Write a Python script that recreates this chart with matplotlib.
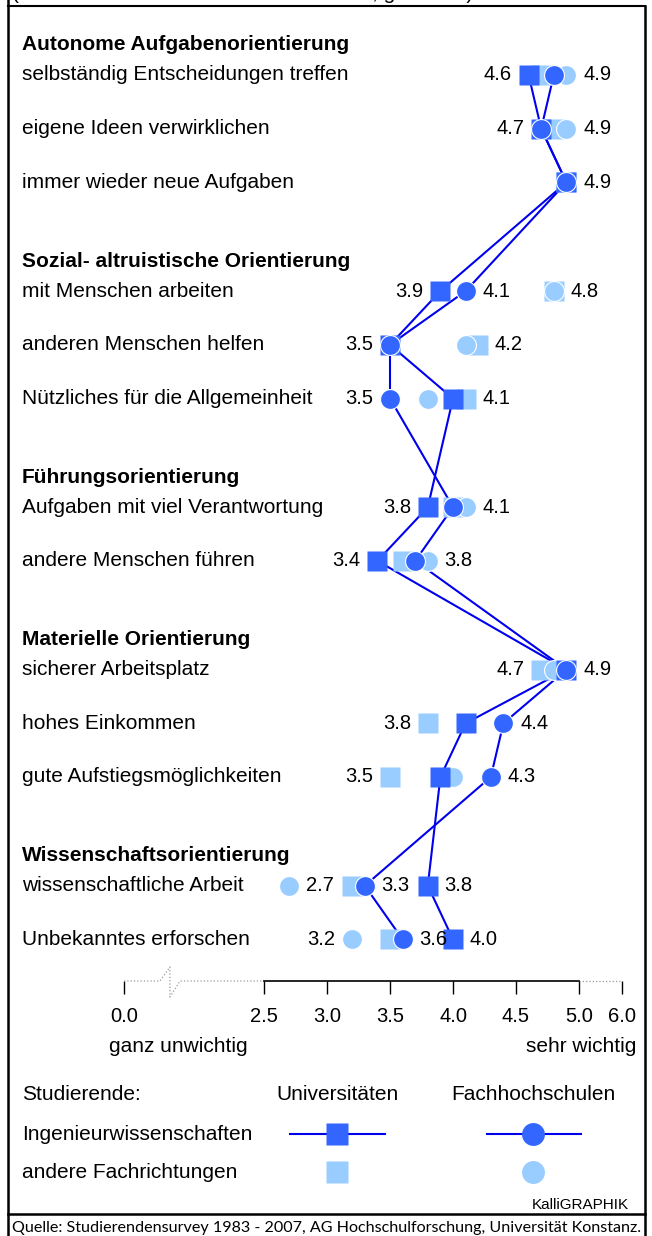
import numpy as np
import matplotlib.pyplot as plt

plt.rcParams['font.family'] = ['Liberation Sans', 'DejaVu Sans']

# --- data ---
groups = ['Autonome Aufgabenorientierung',
          'Sozial- altruistische Orientierung',
          'Führungsorientierung',
          'Materielle Orientierung',
          'Wissenschaftsorientierung']
items = ['selbständig Entscheidungen treffen',
         'eigene Ideen verwirklichen',
         'immer wieder neue Aufgaben',
         'mit Menschen arbeiten',
         'anderen Menschen helfen',
         'Nützliches für die Allgemeinheit',
         'Aufgaben mit viel Verantwortung',
         'andere Menschen führen',
         'sicherer Arbeitsplatz',
         'hohes Einkommen',
         'gute Aufstiegsmöglichkeiten',
         'wissenschaftliche Arbeit',
         'Unbekanntes erforschen']
item_group = [0, 0, 0, 1, 1, 1, 2, 2, 3, 3, 3, 4, 4]

uni_ing = [4.6, 4.7, 4.9, 3.9, 3.5, 4.0, 3.8, 3.4, 4.9, 4.1, 3.9, 3.8, 4.0]
fh_ing = [4.8, 4.7, 4.9, 4.1, 3.5, 3.5, 4.0, 3.7, 4.9, 4.4, 4.3, 3.3, 3.6]
uni_and = [4.7, 4.8, 4.9, 4.8, 4.2, 4.1, 4.0, 3.6, 4.7, 3.8, 3.5, 3.2, 3.5]
fh_and = [4.9, 4.9, 4.9, 4.8, 4.1, 3.8, 4.1, 3.8, 4.8, 4.1, 4.0, 2.7, 3.2]

# which values get a number next to them: (series, side)
value_labels = [
    [('uni_ing', 'L'), ('fh_and', 'R')],
    [('uni_ing', 'L'), ('fh_and', 'R')],
    [('fh_ing', 'R')],
    [('uni_ing', 'L'), ('fh_ing', 'R'), ('fh_and', 'R')],
    [('uni_ing', 'L'), ('uni_and', 'R')],
    [('fh_ing', 'L'), ('uni_and', 'R')],
    [('uni_ing', 'L'), ('fh_and', 'R')],
    [('uni_ing', 'L'), ('fh_and', 'R')],
    [('uni_and', 'L'), ('fh_ing', 'R')],
    [('uni_and', 'L'), ('fh_ing', 'R')],
    [('uni_and', 'L'), ('fh_ing', 'R')],
    [('fh_and', 'R'), ('fh_ing', 'R'), ('uni_ing', 'R')],
    [('fh_and', 'L'), ('fh_ing', 'R'), ('uni_ing', 'R')],
]

ticks = [0.0, 2.5, 3.0, 3.5, 4.0, 4.5, 5.0, 6.0]

series = {'uni_ing': uni_ing, 'fh_ing': fh_ing,
          'uni_and': uni_and, 'fh_and': fh_and}

DARK = '#3366ff'
LIGHT = '#99ccff'
LINE = '#0000ee'
FS = 15     # labels
NFS = 14.5  # numbers
MS = 14.3

# broken axis: 0..2.5 compressed, 2.5..5 linear, 5..6 compressed
scale_v = [-10, 0, 2.5, 5.0, 6.0, 20]
scale_px = [124 - 560, 124, 264, 579, 622, 622 + 14 * 43]


def fwd(v):
    return np.interp(v, scale_v, scale_px)


def inv(p):
    return np.interp(p, scale_px, scale_v)


fig = plt.figure(figsize=(6.52, 12.36), dpi=100)

# background axes in pixel units for frame, texts and legend
bg = fig.add_axes([0, 0, 1, 1])
bg.set_xlim(0, 652)
bg.set_ylim(1236, 0)
bg.axis('off')

ax = fig.add_axes([0, 0, 1, 1])
ax.patch.set_alpha(0)
ax.set_xscale('function', functions=(fwd, inv))
ax.set_xlim(inv(0), inv(652))
ax.set_ylim(1236, 0)

row_y = [75 + 53.7 * i + 55 * g for i, g in enumerate(item_group)]

# frame
bg.plot([8, 645], [5.5, 5.5], color='black', lw=1.5)
bg.plot([8, 8], [0, 1236], color='black', lw=1.8)
bg.plot([645, 645], [5.5, 1236], color='black', lw=1.8)
bg.plot([8, 645], [1214, 1214], color='black', lw=1.8)
bg.text(12, -1, '(Mittelwerte auf einer Skala von 0 bis 6, gerundet)',
        fontsize=FS, va='baseline')

# row labels and headers
for name, y in zip(items, row_y):
    bg.text(22, y, name, fontsize=FS, va='center')
for g, name in enumerate(groups):
    y = row_y[item_group.index(g)] - 30
    bg.text(22, y, name, fontsize=FS, va='center', fontweight='bold')

# markers and lines
ax.plot(uni_ing, row_y, color=LINE, lw=1.5, zorder=1)
ax.plot(fh_ing, row_y, color=LINE, lw=1.5, zorder=1)
ax.plot(uni_and, row_y, ls='none', marker='s', ms=MS, mfc=LIGHT, mec='none', zorder=2)
ax.plot(fh_and, row_y, ls='none', marker='o', ms=MS, mfc=LIGHT, mec='white', mew=0.8, zorder=3)
ax.plot(uni_ing, row_y, ls='none', marker='s', ms=MS, mfc=DARK, mec='none', zorder=4)
ax.plot(fh_ing, row_y, ls='none', marker='o', ms=MS, mfc=DARK, mec='white', mew=0.8, zorder=5)

for i, labs in enumerate(value_labels):
    for key, side in labs:
        v = series[key][i]
        off = 12 if side == 'R' else -12
        ax.annotate('%.1f' % v, (v, row_y[i]), xytext=(off, 0),
                    textcoords='offset points', fontsize=NFS, va='center',
                    ha='left' if side == 'R' else 'right', zorder=6)

# x axis
for s in ['left', 'right', 'top']:
    ax.spines[s].set_visible(False)
ax.spines['bottom'].set_position(('data', 981))
ax.spines['bottom'].set_bounds(2.5, 5.0)
ax.spines['bottom'].set_linewidth(1.2)
ax.set_yticks([])
ax.set_xticks(ticks)
ax.set_xticklabels(['%.1f' % t for t in ticks])
ax.tick_params(axis='x', direction='out', length=9.5, width=1, pad=9, labelsize=NFS)
ax.plot([0, 0.643, 0.82, 0.82, 1.0, 2.5], [981, 981, 967, 997, 981, 981],
        color='#999999', lw=0.9, ls=':', clip_on=False)
ax.plot([5.0, 6.0], [981, 981], color='#999999', lw=0.9, ls=':', clip_on=False)

bg.text(109, 1046, 'ganz unwichtig', fontsize=FS, va='center')
bg.text(636, 1046, 'sehr wichtig', fontsize=FS, va='center', ha='right')

# legend
bg.text(22, 1094, 'Studierende:', fontsize=FS, va='center')
bg.text(337, 1094, 'Universitäten', fontsize=FS, va='center', ha='center')
bg.text(533, 1094, 'Fachhochschulen', fontsize=FS, va='center', ha='center')
bg.text(22, 1134, 'Ingenieurwissenschaften', fontsize=FS, va='center')
bg.text(22, 1172, 'andere Fachrichtungen', fontsize=FS, va='center')
bg.plot([290, 385], [1134, 1134], color=LINE, lw=1.5)
bg.plot([487, 581], [1134, 1134], color=LINE, lw=1.5)
bg.plot([337], [1134], marker='s', ms=16.5, mfc=DARK, mec='none')
bg.plot([533], [1134], marker='o', ms=16.5, mfc=DARK, mec='none')
bg.plot([337], [1172], marker='s', ms=16.5, mfc=LIGHT, mec='none')
bg.plot([533], [1172], marker='o', ms=16.5, mfc=LIGHT, mec='none')
bg.text(629, 1205, 'KalliGRAPHIK', fontsize=11, va='center', ha='right')

bg.text(12, 1221, 'Quelle: Studierendensurvey 1983 - 2007, AG Hochschulforschung, Universität Konstanz.',
        fontsize=11.6, va='top', family=['Lato', 'DejaVu Sans'])

fig.savefig('out.png', dpi=100)
